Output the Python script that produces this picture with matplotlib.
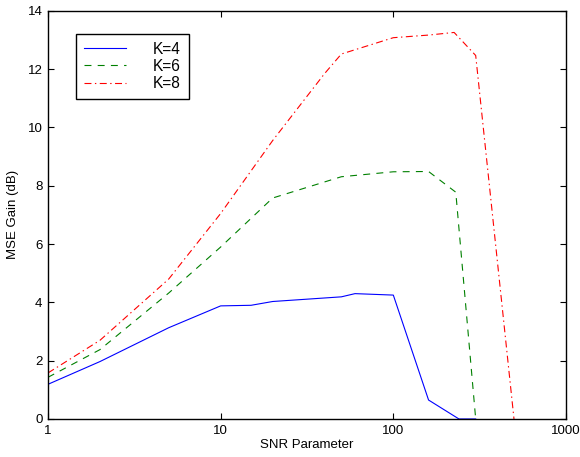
import matplotlib
matplotlib.use("Agg")
import matplotlib.pyplot as plt
from matplotlib.ticker import FixedLocator, FixedFormatter, NullLocator

plt.rcParams['font.family'] = ['Liberation Sans', 'DejaVu Sans']
plt.rcParams['lines.scale_dashes'] = False

# SNR parameter values and MSE gain (dB) for each K
snr_k4 = [1, 2, 5, 10, 15, 20, 50, 60, 100, 160, 240, 300]
gain_k4 = [1.19, 1.97, 3.13, 3.88, 3.90, 4.03, 4.19, 4.30, 4.25, 0.65, 0.0, 0.0]

snr_k6 = [1, 2, 5, 10, 20, 50, 100, 160, 230, 300]
gain_k6 = [1.43, 2.38, 4.32, 5.9, 7.58, 8.31, 8.48, 8.49, 7.78, 0.0]

snr_k8 = [1, 2, 5, 10, 20, 40, 50, 100, 160, 225, 300, 500]
gain_k8 = [1.58, 2.70, 4.8, 7.05, 9.55, 11.85, 12.52, 13.08, 13.17, 13.26, 12.47, 0.0]

series_labels = ['K=4', 'K=6', 'K=8']
x_ticks = [1, 10, 100, 1000]
x_tick_labels = ['1', '10', '100', '1000']
y_ticks = [0, 2, 4, 6, 8, 10, 12, 14]

fig = plt.figure(figsize=(5.8, 4.57), dpi=100)
ax = fig.add_axes([0.0828, 0.0832, 0.893, 0.893])

ax.plot(snr_k4, gain_k4, color=(0, 0, 1), lw=0.8, label=series_labels[0])
ax.plot(snr_k6, gain_k6, color=(0, 0.5, 0), lw=0.8, dashes=(5, 4.5),
        label=series_labels[1])
ax.plot(snr_k8, gain_k8, color=(1, 0, 0), lw=0.8, dashes=(5, 2.5, 1, 2.5),
        label=series_labels[2])

ax.set_xscale('log')
ax.set_xlim(1, 1000)
ax.set_ylim(0, 14)
ax.xaxis.set_major_locator(FixedLocator(x_ticks))
ax.xaxis.set_major_formatter(FixedFormatter(x_tick_labels))
ax.xaxis.set_minor_locator(NullLocator())
ax.set_yticks(y_ticks)
ax.set_yticklabels([str(v) for v in y_ticks])

ax.tick_params(direction='in', length=4, width=0.8, top=True, right=True,
               labelsize=9.5, pad=4)
for s in ax.spines.values():
    s.set_linewidth(1.0)

ax.set_xlabel('SNR Parameter', fontsize=9.5, labelpad=2)
ax.set_ylabel('MSE Gain (dB)', fontsize=9.5, labelpad=6)

leg = ax.legend(loc='upper left', bbox_to_anchor=(0.054, 0.944), fontsize=11.2,
                handlelength=2.7, handletextpad=1.75, labelspacing=0.15,
                borderpad=0.5, borderaxespad=0, fancybox=False,
                framealpha=1, edgecolor='black')
leg.get_frame().set_linewidth(1.0)

fig.savefig('out.png', dpi=100)
